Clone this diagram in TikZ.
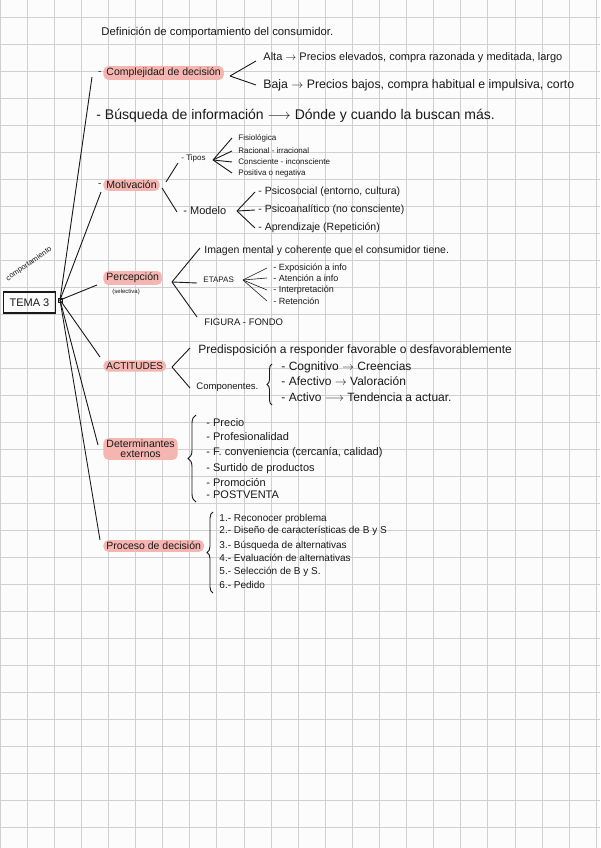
\documentclass[tikz,border=0pt]{standalone}
\usepackage{fontspec}
\setmainfont{Liberation Sans}
\usepackage{amsmath}
\usetikzlibrary{calc}
\usetikzlibrary{decorations.pathreplacing}
\definecolor{hlpink}{RGB}{245,181,176}
\definecolor{gridgray}{RGB}{208,208,208}
\definecolor{ink}{RGB}{25,25,25}
\tikzset{
  hl/.style={fill=hlpink, rounded corners=5pt, inner xsep=3pt, inner ysep=2pt, anchor=west, text=ink, font=\fontsize{10.5}{12}\selectfont},
  txt/.style={anchor=west, inner sep=1pt, text=ink, font=\fontsize{#1}{#1}\selectfont},
  txt/.default=10,
  br/.style={decorate, decoration={brace, amplitude=#1}},
  br/.default=5pt,
}

\begin{document}
\begin{tikzpicture}[x=1pt, y=-1pt, line width=.9pt, draw=ink]
\useasboundingbox (0,0) rectangle (600,848);
\fill[white!99!black] (0,0) rectangle (600,848);
\foreach \x in {0,...,22} {
 \draw[gridgray, line width=.7pt] (27.1*\x,0) -- (27.1*\x,848);
};
\foreach \y in {0,...,30} {
 \draw[gridgray, line width=.7pt] (0,17+27*\y) -- (600,17+27*\y);
};

\node[txt=11.3] (title) at (100,33) {Definición de comportamiento del consumidor.};

% centro
\node[draw, line width=1.3pt, minimum width=52, minimum height=21, inner sep=0, text=ink, font=\fontsize{11}{12}\selectfont] (tema) at (29.5,302.5) {TEMA 3};
\node[rotate=35, inner sep=0, text=ink, font=\fontsize{7.5}{8}\selectfont] (compo) at (29,264) {comportamiento};
\node[draw, line width=.7pt, minimum size=4, inner sep=0] (hub) at (60,300) {};

% temas
\node[hl] (comp) at (103,73) {Complejidad de decisión};
\node[txt=10, anchor=east] (compd) at (comp.west) {-};
\node[txt=14] (busq) at (95,116) {- Búsqueda de información $\longrightarrow$ Dónde y cuando la buscan más.};
\node[hl] (motiv) at (103,185) {Motivación};
\node[txt=10, anchor=east] (motivd) at (motiv.west) {-};
\node[hl] (percep) at (103,278) {Percepción};
\node[txt=6] (selec) at (111,292) {(selectiva)};
\node[hl, font=\fontsize{10}{12}\selectfont] (actit) at (103,366) {ACTITUDES};
\node[hl, align=center, font=\fontsize{10.5}{10}\selectfont] (determ) at (103,449) {Determinantes\\externos};
\node[hl] (proc) at (103,546) {Proceso de decisión};

\foreach \n/\dx/\dy in {comp/-11/4, motiv/-2/7, percep/-6/7, actit/-3/-9, determ/-5/-4, proc/-3/-6} {
 \draw (hub.center) -- ([shift={(\dx,\dy)}]\n.west);
};

% complejidad
\coordinate (compf) at (230,76);
\node[txt=11] (alta) at (262,58) {Alta $\rightarrow$ Precios elevados, compra razonada y meditada, largo};
\node[txt=12.3] (baja) at (262,85) {Baja $\rightarrow$ Precios bajos, compra habitual e impulsiva, corto};
\draw (compf) -- ([shift={(-6,3)}]alta.west);
\draw (compf) -- ([xshift=-6]baja.west);

% motivacion
\node[txt=8] (tipos) at (180,158) {- Tipos};
\node[txt=11] (modelo) at (182,211) {- Modelo};
\coordinate (motf1) at (166,182);
\coordinate (motf2) at (162,188);
\draw (motf1) -- ([shift={(-2,5)}]tipos.west);
\draw (motf2) -- ([shift={(-5,1)}]modelo.west);
\coordinate (tipf) at (213,160);
\foreach \n/\t/\yy in {t1/Fisiológica/138, t2/Racional - irracional/151, t3/Consciente - inconsciente/162, t4/Positiva o negativa/173} {
 \node[txt=8] (\n) at (237,\yy) {\t};
 \draw (tipf) -- ([xshift=-5]\n.west);
};
\coordinate (modf) at (237,211);
\foreach \n/\t/\yy in {m1/{- Psicosocial (entorno, cultura)}/192, m2/{- Psicoanalítico (no consciente)}/210, m3/{- Aprendizaje (Repetición)}/228} {
 \node[txt=10.5] (\n) at (257,\yy) {\t};
 \draw (modf) -- ([xshift=-2]\n.west);
};

% percepcion
\coordinate (perf) at (172,282);
\node[txt=10.5] (imagen) at (203,251) {Imagen mental y coherente que el consumidor tiene.};
\node[txt=8] (etapas) at (202,280) {ETAPAS};
\node[txt=9.5] (figura) at (203,322) {FIGURA - FONDO};
\draw (perf) -- ([shift={(-3,-3)}]imagen.west);
\draw (perf) -- ([shift={(-5,3)}]etapas.west);
\draw (perf) -- ([shift={(-6,-5)}]figura.west);
\coordinate (etaf) at (243,280);
\foreach \n/\t/\yy in {e1/Exposición a info/268, e2/Atención a info/278, e3/Interpretación/290, e4/Retención/301} {
 \node[txt=9] (\n) at (272,\yy) {- \t};
 \draw[line width=.6pt] (etaf) -- ([xshift=-5]\n.west);
};

% actitudes
\coordinate (actf) at (172,367);
\node[txt=12] (predis) at (197,350) {Predisposición a responder favorable o desfavorablemente};
\node[txt=9.5] (compon) at (195,387) {Componentes.};
\draw (actf) -- ([shift={(-7,-2)}]predis.west);
\draw (actf) -- ([shift={(-5,1)}]compon.west);
\draw[br=5pt] (272,405) -- (272,364);
\node[txt=12] (a1) at (280,367) {- Cognitivo $\rightarrow$ Creencias};
\node[txt=12] (a2) at (280,381) {- Afectivo $\rightarrow$ Valoración};
\node[txt=12] (a3) at (280,397) {- Activo $\longrightarrow$ Tendencia a actuar.};

% determinantes
\draw[br=8pt] (196,502) -- (196,415);
\foreach \n/\t/\yy in {d1/Precio/423, d2/Profesionalidad/437, d3/{F. conveniencia (cercanía, calidad)}/453, d4/Surtido de productos/469, d5/Promoción/482, d6/POSTVENTA/495} {
 \node[txt=11] (\n) at (205,\yy) {- \t};
};

% proceso
\draw[br=6pt] (213,593) -- (213,512);
\foreach \i/\t/\yy in {1/Reconocer problema/519, 2/Diseño de características de B y S/531, 3/Búsqueda de alternativas/546, 4/Evaluación de alternativas/558, 5/Selección de B y S./572, 6/Pedido/585} {
 \node[txt=10] (p\i) at (218,\yy) {\i.- \t};
};
\end{tikzpicture}
\end{document}
